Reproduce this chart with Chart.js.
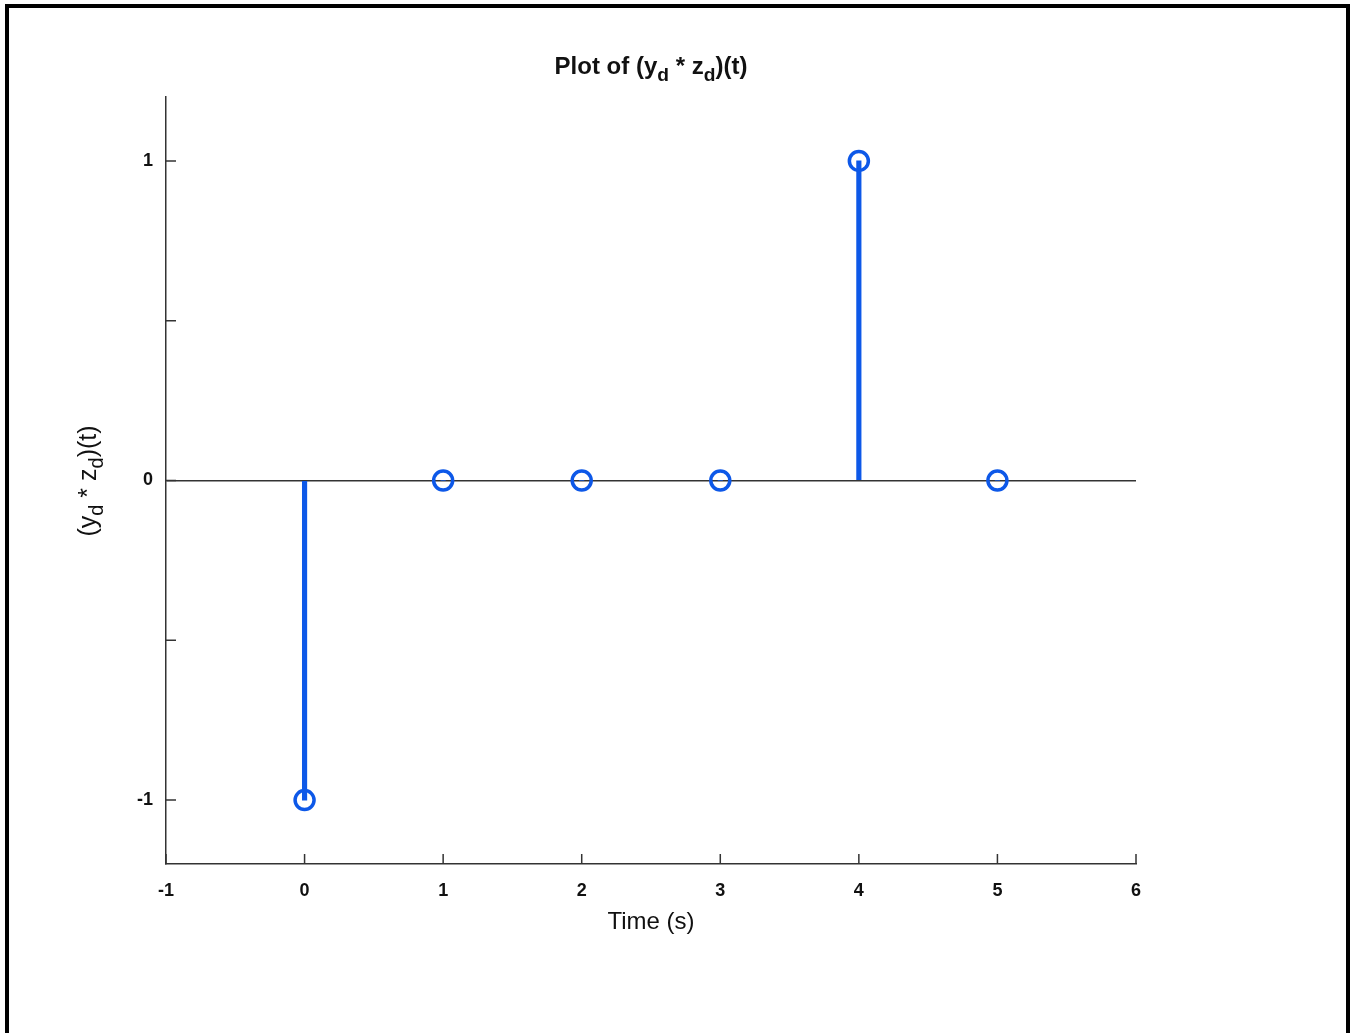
<!DOCTYPE html>
<html>
<head>
<meta charset="utf-8">
<script src="https://cdn.jsdelivr.net/npm/chart.js@4"></script>
<style>
  html, body { margin: 0; padding: 0; background: #fff; overflow: hidden; }
  #wrap { position: relative; width: 1351px; height: 1033px; }
  #frame {
    position: absolute; left: 5px; top: 4px; width: 1345px; height: 1100px;
    box-sizing: border-box; border: 4px solid #000; border-bottom: none;
  }
  canvas { position: absolute; left: 0; top: 0; }
  .lbl { position: absolute; font-family: "Liberation Sans", Arial, sans-serif; color: #111; white-space: nowrap; }
  #title { left: 651px; top: 52px; transform: translateX(-50%); font-size: 24px; font-weight: bold; }
  #ylab { left: 90px; top: 481px; transform: translate(-50%, -50%) rotate(-90deg); font-size: 25px; }
  sub { font-size: 0.8em; vertical-align: -0.35em; }
</style>
</head>
<body>
<div id="wrap">
  <canvas id="stemChart" width="1351" height="1033"></canvas>
  <div id="frame"></div>
  <div class="lbl" id="title">Plot of (y<sub>d</sub> * z<sub>d</sub>)(t)</div>
  <div class="lbl" id="ylab">(y<sub>d</sub> * z<sub>d</sub>)(t)</div>
</div>
<script>
// data
const timeValues = [0, 1, 2, 3, 4, 5];
const convValues = [-1, 0, 0, 0, 1, 0];
const xTicks = [-1, 0, 1, 2, 3, 4, 5, 6];
const yTicks = [-1, -0.5, 0, 0.5, 1];

const stemBlue = "#0d58e8";
const axisColor = "#333333";

const points = timeValues.map((t, i) => ({ x: t, y: convValues[i] }));

// short tick marks pointing into the plot area
const innerTicks = {
  id: "innerTicks",
  afterDraw(chart) {
    const c = chart.ctx;
    const xs = chart.scales.x;
    const ys = chart.scales.y;
    c.save();
    c.strokeStyle = axisColor;
    c.lineWidth = 1.5;
    c.beginPath();
    xTicks.forEach(v => {
      const px = xs.getPixelForValue(v);
      c.moveTo(px, ys.bottom);
      c.lineTo(px, ys.bottom - 10);
    });
    yTicks.forEach(v => {
      const py = ys.getPixelForValue(v);
      c.moveTo(xs.left, py);
      c.lineTo(xs.left + 10, py);
    });
    c.stroke();
    c.restore();
  }
};

const ctx = document.getElementById("stemChart").getContext("2d");

new Chart(ctx, {
  type: "scatter",
  data: {
    datasets: [
      {
        type: "scatter",
        data: points,
        order: 0,
        showLine: false,
        pointRadius: 9.5,
        pointHoverRadius: 9.5,
        pointBorderWidth: 3.5,
        pointBorderColor: stemBlue,
        pointBackgroundColor: "rgba(0,0,0,0)",
      },
      {
        type: "bar",
        data: points,
        order: 1,
        barThickness: 4.5,
        grouped: false,
        backgroundColor: stemBlue,
        borderWidth: 0,
      },
    ],
  },
  options: {
    responsive: false,
    animation: false,
    events: [],
    layout: { padding: { top: 97, right: 215, bottom: 89, left: 0 } },
    plugins: { legend: { display: false }, tooltip: { enabled: false } },
    scales: {
      x: {
        type: "linear",
        min: -1,
        max: 6,
        offset: false,
        afterFit: s => { s.height = 80; },
        afterBuildTicks: s => { s.ticks = xTicks.map(v => ({ value: v })); },
        grid: { display: false, drawTicks: false, offset: false },
        border: { display: true, color: axisColor, width: 1.5 },
        ticks: {
          padding: 16,
          color: "#111",
          font: { family: "Liberation Sans", size: 18, weight: "bold" },
          maxRotation: 0,
        },
        title: {
          display: true,
          text: "Time (s)",
          color: "#111",
          font: { family: "Liberation Sans", size: 24 },
          padding: { top: 0, bottom: 7 },
        },
      },
      y: {
        type: "linear",
        min: -1.2,
        max: 1.2,
        afterFit: s => { s.width = 166; },
        afterBuildTicks: s => { s.ticks = yTicks.map(v => ({ value: v })); },
        grid: {
          drawTicks: false,
          color: c => (c.tick && c.tick.value === 0 ? axisColor : "rgba(0,0,0,0)"),
          lineWidth: 1.5,
        },
        border: { display: true, color: axisColor, width: 1.5 },
        ticks: {
          padding: 13,
          color: "#111",
          font: { family: "Liberation Sans", size: 18, weight: "bold" },
          callback: v => (Number.isInteger(v) ? String(v) : ""),
        },
      },
    },
  },
  plugins: [innerTicks],
});
</script>
</body>
</html>
